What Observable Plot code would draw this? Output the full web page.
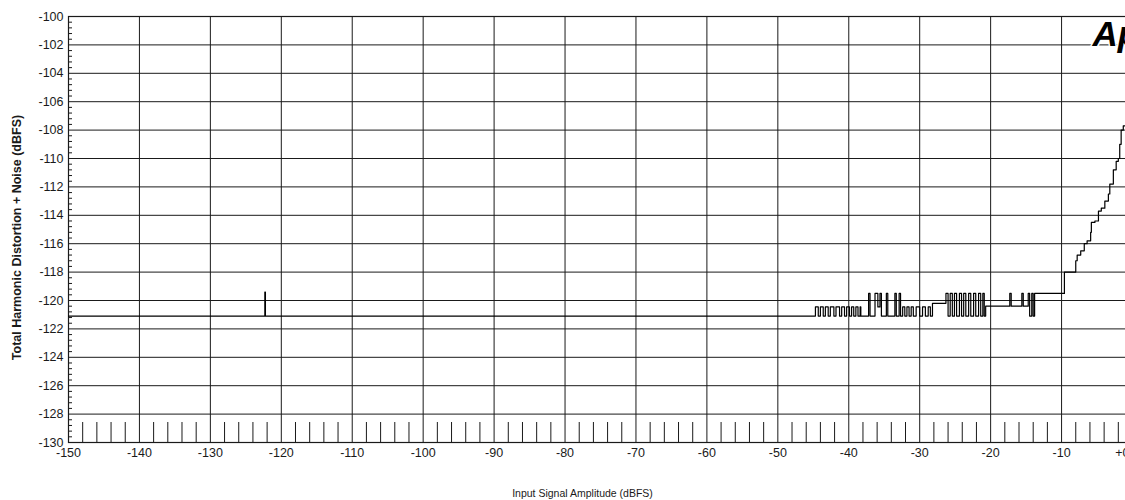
<!DOCTYPE html>
<html>
<head>
<meta charset="utf-8">
<script src="https://cdn.jsdelivr.net/npm/d3@7"></script>
<script src="https://cdn.jsdelivr.net/npm/@observablehq/plot@0.6"></script>
<style>
  html, body { margin: 0; padding: 0; background: #fff; overflow: hidden; }
  #chart svg { display: block; max-width: none !important; }
</style>
</head>
<body>
<div id="chart"></div>
<script>
// ---- data (step-after samples) ----
const amplitude = [
  -150, -122.32, -122.24,
  -44.7, -44.3, -44.0, -43.6, -43.3, -42.9, -42.6, -42.1, -41.8, -41.3, -41.0, -40.6, -40.3, -39.9, -39.6, -39.3, -39.0, -38.7, -38.4,
  -38.3, -37.2, -37.0, -36.3, -35.9, -35.6, -35.4, -34.7, -34.5,
  -33.5, -33.3, -32.9, -32.7,
  -32.4, -32.1, -31.8, -31.5, -31.2, -30.9, -30.5, -30.0, -29.6, -29.2, -28.8, -28.5,
  -28.2,
  -26.3, -26.0, -25.7, -25.4, -25.1, -24.8, -24.4, -24.1, -23.8, -23.5, -23.1, -22.8, -22.4, -22.1, -21.7, -21.4, -21.1, -20.9,
  -20.7, -17.3, -17.1, -15.6, -15.4,
  -14.7, -14.5, -14.2, -14.0, -13.8,
  -13.4,
  -9.6, -8.0, -7.8, -7.3, -6.8, -6.4, -5.9, -5.8, -5.3, -4.8, -4.4, -3.9, -3.4, -3.2, -2.7, -2.3, -2.0, -1.8, -1.6, -1.3, -0.8, 0
];
const thdn = [
  -121.1, -119.4, -121.1,
  -120.45, -121.1, -120.45, -121.1, -120.45, -121.1, -120.45, -121.1, -120.45, -121.1, -120.45, -121.1, -120.45, -121.1, -120.45, -121.1, -120.45, -121.1, -120.45,
  -121.1, -119.5, -121.1, -119.5, -120.45, -119.5, -121.1, -119.5, -121.1,
  -119.5, -121.1, -119.5, -121.1,
  -120.45, -121.1, -120.45, -121.1, -120.45, -121.1, -120.45, -121.1, -120.45, -121.1, -120.45, -121.1,
  -120.2,
  -119.5, -121.1, -119.5, -121.1, -119.5, -121.1, -119.5, -121.1, -119.5, -121.1, -119.5, -121.1, -119.5, -121.1, -119.5, -121.1, -119.5, -121.1,
  -120.4, -119.5, -120.4, -119.5, -120.4,
  -119.5, -121.1, -119.5, -121.1, -119.5,
  -119.5,
  -118.0, -117.2, -116.8, -116.5, -116.0, -115.8, -115.2, -114.5, -114.4, -113.7, -113.5, -113.0, -112.5, -111.8, -110.8, -110.2, -110.0, -109.0, -108.0, -107.7, -107.2, -106.8
];

// ---- axis ticks / labels ----
const xTicks = [-150, -140, -130, -120, -110, -100, -90, -80, -70, -60, -50, -40, -30, -20, -10];
const xLastTick = [0];
const xGridLines = [-140, -130, -120, -110, -100, -90, -80, -70, -60, -50, -40, -30, -20, -10];
const yTicks = [-130, -128, -126, -124, -122, -120, -118, -116, -114, -112, -110, -108, -106, -104, -102, -100];
const yGridLines = [-128, -126, -124, -122, -120, -118, -116, -114, -112, -110, -108, -106, -104, -102];
const xMinorTicks = d3.range(-148, 0, 2).filter(v => v % 10 !== 0);
const yMinorTicks = d3.range(-129.6, -100, 0.4).map(v => +v.toFixed(1)).filter(v => Math.abs(v % 2) > 0.05 && Math.abs(v % 2) < 1.95);

const xTitle = "Input Signal Amplitude (dBFS)";
const yTitle = "Total Harmonic Distortion + Noise (dBFS)";
const logoText = "Ap";

const data = amplitude.map((x, i) => ({x, y: thdn[i]}));

const W = 1144, H = 500, ML = 68, MR = 12, MT = 16, MB = 58;
const frameW = W - ML - MR, frameH = H - MT - MB;
const ink = "#1a1a1a";
const fmt = d => d === 0 ? "+0" : String(d);

const chart = Plot.plot({
  width: W, height: H,
  marginLeft: ML, marginRight: MR, marginTop: MT, marginBottom: MB,
  x: {domain: [-150, 0]},
  y: {domain: [-130, -100]},
  style: {fontFamily: "'Liberation Sans', Arial, sans-serif", fontSize: "12.5px", color: ink, background: "#fff"},
  marks: [
    Plot.gridX(xGridLines, {stroke: ink, strokeOpacity: 1, strokeWidth: 1}),
    Plot.gridY(yGridLines, {stroke: ink, strokeOpacity: 1, strokeWidth: 1}),
    Plot.ruleX(xMinorTicks, {insetTop: frameH - 20, stroke: ink, strokeWidth: 1}),
    Plot.ruleY(yMinorTicks, {insetRight: frameW - 4, stroke: ink, strokeWidth: 1}),
    Plot.frame({stroke: ink, strokeWidth: 1.2}),
    Plot.axisX(xTicks, {tickSize: 0, tickPadding: 6, label: null, tickFormat: fmt}),
    Plot.text(xLastTick, {x: d => d, text: fmt, frameAnchor: "bottom", textAnchor: "end", lineAnchor: "top", dy: 6, dx: -3,
      fontSize: 12.5, fill: ink}),
    Plot.axisY(yTicks, {tickSize: 0, tickPadding: 5, label: null, tickFormat: d => String(d)}),
    Plot.line(data, {x: "x", y: "y", curve: "step-after", stroke: "#000", strokeWidth: 1.2}),
    Plot.text([yTitle], {frameAnchor: "left", textAnchor: "middle", lineAnchor: "middle", rotate: -90, dx: -52, dy: 8,
      fontWeight: "bold", fontSize: 12.5, fill: ink}),
    Plot.text([xTitle], {frameAnchor: "bottom", textAnchor: "middle", lineAnchor: "middle", dy: 51, dx: -18, fontSize: 10.5, fill: ink}),
    Plot.text([logoText], {frameAnchor: "top-right", textAnchor: "start", lineAnchor: "bottom", dx: -40, dy: 29,
      fontSize: 35, fontWeight: "bold", fontStyle: "italic", fill: "#000", stroke: "#fff", strokeWidth: 3, paintOrder: "stroke"})
  ]
});
document.getElementById("chart").appendChild(chart);
</script>
</body>
</html>
